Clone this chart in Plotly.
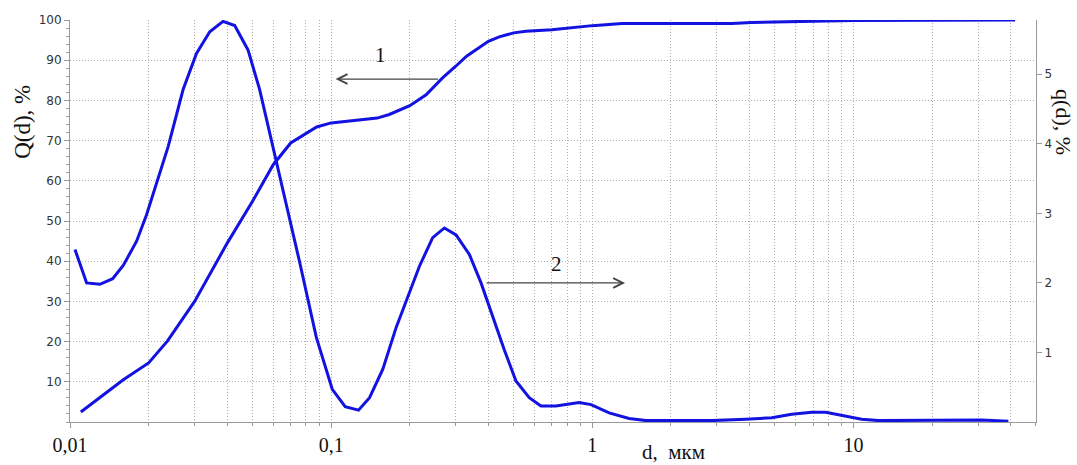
import plotly.graph_objects as go

# Curve 1: cumulative distribution Q(d), % (left axis)
d_Q = [0.011, 0.013, 0.016, 0.02, 0.0236, 0.03, 0.04, 0.05, 0.06, 0.07, 0.088, 0.1,
       0.15, 0.167, 0.2, 0.231, 0.267, 0.3, 0.33, 0.4, 0.44, 0.5, 0.557, 0.7, 0.89,
       1.0, 1.3, 2.0, 3.42, 4.08, 6.92, 10.0, 41.6]
Q = [2.5, 6.1, 10.5, 14.7, 20.1, 30.0, 44.5, 54.9, 64.0, 69.4, 73.4, 74.4,
     75.6, 76.5, 78.7, 81.4, 85.6, 88.5, 91.0, 94.7, 95.8, 96.8, 97.2, 97.6, 98.3,
     98.6, 99.1, 99.1, 99.1, 99.4, 99.6, 99.9, 100.0]

# Curve 2: differential distribution q(d), % (right axis)
d_q = [0.01045, 0.01158, 0.01302, 0.01457, 0.01599, 0.01799, 0.01964, 0.02145, 0.02376,
       0.02711, 0.0305, 0.03429, 0.03855, 0.04273, 0.04804, 0.05324, 0.05985, 0.06832,
       0.07573, 0.0877, 0.101, 0.1132, 0.1273, 0.1403, 0.1577, 0.1774, 0.1965, 0.2178,
       0.2448, 0.2714, 0.3008, 0.3382, 0.3749, 0.4151, 0.4601, 0.5101, 0.5735, 0.6357,
       0.7254, 0.8903, 0.9895, 1.16, 1.383, 1.606, 2.871, 3.87, 4.87, 5.8, 6.92, 7.83,
       9.02, 10.75, 12.49, 25.2, 30.9, 39.2]
q = [2.48, 2.00, 1.98, 2.06, 2.25, 2.60, 2.98, 3.44, 3.96,
     4.78, 5.30, 5.61, 5.76, 5.70, 5.35, 4.78, 3.96, 3.01,
     2.30, 1.22, 0.47, 0.22, 0.17, 0.35, 0.76, 1.36, 1.79, 2.24,
     2.65, 2.79, 2.69, 2.41, 2.00, 1.52, 1.04, 0.59, 0.35, 0.23,
     0.23, 0.28, 0.25, 0.13, 0.05, 0.02, 0.02, 0.04, 0.06, 0.11, 0.14, 0.14,
     0.10, 0.04, 0.02, 0.02, 0.03, 0.01]

x_tickvals = [0.01, 0.1, 1, 10]
x_ticktext = ["0,01", "0,1", "1", "10"]
y_tickvals = [10, 20, 30, 40, 50, 60, 70, 80, 90, 100]
y2_tickvals = [1, 2, 3, 4, 5]

BLUE = "rgb(18,18,225)"
GRID = "#b0b0b0"
AXIS = "#9a9a9a"
DASH = "1px,2px"
SERIF = "Liberation Serif, Times New Roman, serif"
SANS = "DejaVu Sans, Verdana, sans-serif"

fig = go.Figure()
fig.add_trace(go.Scatter(x=d_Q, y=Q, mode="lines", line=dict(color=BLUE, width=3),
                         showlegend=False, yaxis="y"))
fig.add_trace(go.Scatter(x=d_q, y=q, mode="lines", line=dict(color=BLUE, width=3),
                         showlegend=False, yaxis="y2"))

fig.update_layout(
    width=1077, height=465,
    margin=dict(l=70, r=41, t=20, b=43, autoexpand=False),
    paper_bgcolor="white", plot_bgcolor="white",
    xaxis=dict(
        type="log", range=[-2, 1.699], automargin=False,
        tickvals=x_tickvals, ticktext=x_ticktext,
        tickfont=dict(family=SERIF, size=20, color="#111"),
        ticks="outside", ticklen=5, tickcolor=AXIS,
        showline=True, linecolor=AXIS, linewidth=1,
        showgrid=True, gridcolor=GRID, griddash=DASH, gridwidth=1,
        minor=dict(dtick="D1", showgrid=True, gridcolor=GRID, griddash=DASH,
                   ticks="outside", ticklen=3, tickcolor=AXIS),
        zeroline=False,
    ),
    yaxis=dict(
        range=[0, 100], tickvals=y_tickvals, automargin=False,
        tickfont=dict(family=SANS, size=12, color="#333"),
        ticks="outside", ticklen=5, tickcolor=AXIS,
        showline=True, linecolor=AXIS, linewidth=1,
        showgrid=True, gridcolor=GRID, griddash=DASH, gridwidth=1,
        minor=dict(dtick=2, ticks="outside", ticklen=3, tickcolor=AXIS, showgrid=False),
        zeroline=False,
    ),
    yaxis2=dict(
        range=[0, 5.78], tickvals=y2_tickvals, overlaying="y", side="right",
        automargin=False,
        tickfont=dict(family=SANS, size=12, color="#333"),
        ticks="outside", ticklen=5, tickcolor=AXIS,
        showline=True, linecolor=AXIS, linewidth=1,
        showgrid=False, zeroline=False,
    ),
)

annotations = [
    dict(text="Q(d), %", xref="paper", yref="paper", x=-0.05, y=0.746,
         xanchor="center", yanchor="middle", textangle=-90, showarrow=False,
         font=dict(family=SERIF, size=23, color="#111")),
    dict(text="q(d), %", xref="paper", yref="paper", x=1.029, y=0.746,
         xanchor="center", yanchor="middle", textangle=90, showarrow=False,
         font=dict(family=SERIF, size=22, color="#111")),
    dict(text="d,  мкм", xref="paper", yref="paper", x=0.625, y=-0.074,
         xanchor="center", yanchor="middle", showarrow=False,
         font=dict(family=SERIF, size=21, color="#111")),
    dict(text="1", xref="x", yref="y", x=-0.811, y=91.4, showarrow=False,
         font=dict(family=SERIF, size=21, color="#111")),
    dict(text="2", xref="x", yref="y", x=-0.138, y=39.2, showarrow=False,
         font=dict(family=SERIF, size=21, color="#111")),
    dict(text="", xref="x", yref="y", x=-0.983, y=85.3, ax=104, ay=0,
         showarrow=True, arrowhead=5, arrowsize=1.6, arrowwidth=1.2, arrowcolor="#444",
         standoff=0),
    dict(text="", xref="x", yref="y", x=0.1254, y=34.6, ax=-140, ay=0,
         showarrow=True, arrowhead=5, arrowsize=1.6, arrowwidth=1.2, arrowcolor="#444",
         standoff=0),
]
fig.update_layout(annotations=annotations)

fig.write_html("out.html")
